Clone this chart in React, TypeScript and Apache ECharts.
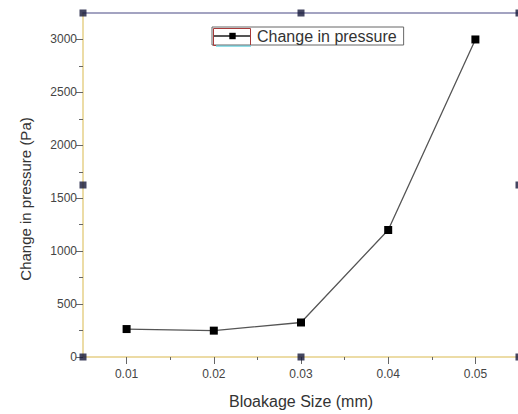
import React, { useEffect, useRef } from "react";
import * as echarts from "echarts";

const blockageSizes = [0.01, 0.02, 0.03, 0.04, 0.05];
const pressureChange = [264, 249, 326, 1200, 3000];
const xTickValues = [0.01, 0.02, 0.03, 0.04, 0.05];
const xMinorTickValues = [0.015, 0.025, 0.035, 0.045];
const yTickValues = [0, 500, 1000, 1500, 2000, 2500, 3000];
const yMinorTickValues = [250, 750, 1250, 1750, 2250, 2750];
const frameMarkers: [number, number][] = [
  [0.005, 0], [0.005, 1625], [0.005, 3250],
  [0.03, 0], [0.03, 3250],
  [0.055, 0], [0.055, 1625], [0.055, 3250],
];

const FONT = "'Liberation Sans', Arial, sans-serif";

export default function App() {
  const ref = useRef<HTMLDivElement>(null);
  useEffect(() => {
    document.body.style.margin = "0";
    document.body.style.overflow = "hidden";
    if (!ref.current) return;
    const chart = echarts.init(ref.current, undefined, { renderer: "svg" });
    chart.setOption({
      animation: false,
      backgroundColor: "#ffffff",
      textStyle: { fontFamily: FONT },
      grid: { left: 83, top: 13, right: 3, bottom: 53, containLabel: false },
      legend: {
        left: 212,
        top: 27,
        itemWidth: 37,
        itemHeight: 8,
        itemGap: 0,
        padding: [1, 7, 1, 1],
        borderColor: "#666",
        borderWidth: 1,
        textStyle: { fontSize: 16, color: "#333", fontFamily: FONT, padding: [0, 0, 0, 1] },
        data: [{ name: "Change in pressure" }],
      },
      xAxis: [
        {
          type: "value",
          min: 0.005,
          max: 0.055,
          position: "bottom",
          name: "Bloakage Size (mm)",
          nameLocation: "middle",
          nameGap: 36,
          nameTextStyle: { fontSize: 16, color: "#333", fontFamily: FONT },
          axisLine: { show: true, onZero: false, lineStyle: { color: "#e6d088", width: 1.5 } },
          axisTick: { show: true, customValues: xTickValues, length: 7, inside: false, lineStyle: { color: "#666" } },
          axisLabel: { customValues: xTickValues, fontSize: 12, color: "#444", margin: 11, formatter: (v: number) => v.toFixed(2) },
          splitLine: { show: false },
        },
        {
          type: "value",
          min: 0.005,
          max: 0.055,
          position: "bottom",
          axisLine: { show: false },
          axisTick: { show: true, customValues: xMinorTickValues, length: 3, lineStyle: { color: "#666" } },
          axisLabel: { show: false },
          splitLine: { show: false },
        },
        {
          type: "value",
          min: 0.005,
          max: 0.055,
          position: "top",
          axisLine: { show: true, onZero: false, lineStyle: { color: "#8585ad", width: 1.5 } },
          axisTick: { show: false },
          axisLabel: { show: false },
          splitLine: { show: false },
        },
      ],
      yAxis: [
        {
          type: "value",
          min: 0,
          max: 3250,
          position: "left",
          axisLine: { show: true, onZero: false, lineStyle: { color: "#e6d088", width: 1.5 } },
          axisTick: { show: true, customValues: yTickValues, length: 7, lineStyle: { color: "#666" } },
          axisLabel: { customValues: yTickValues, fontSize: 12, color: "#444", margin: 6, formatter: (v: number) => String(v) },
          splitLine: { show: false },
        },
        {
          type: "value",
          min: 0,
          max: 3250,
          position: "left",
          axisLine: { show: false },
          axisTick: { show: true, customValues: yMinorTickValues, length: 4, lineStyle: { color: "#666" } },
          axisLabel: { show: false },
          splitLine: { show: false },
        },
        {
          type: "value",
          min: 0,
          max: 3250,
          position: "right",
          axisLine: { show: true, onZero: false, lineStyle: { color: "#e6d088", width: 1.5 } },
          axisTick: { show: false },
          axisLabel: { show: false },
          splitLine: { show: false },
        },
      ],
      series: [
        {
          name: "Change in pressure",
          type: "line",
          data: blockageSizes.map((x, i) => [x, pressureChange[i]]),
          symbol: "rect",
          symbolSize: 8,
          itemStyle: { color: "#000" },
          lineStyle: { color: "#555", width: 1.3 },
          z: 5,
        },
        {
          name: "frame",
          type: "scatter",
          data: frameMarkers,
          symbol: "rect",
          symbolSize: 7,
          clip: false,
          itemStyle: { color: "#15183a" },
          silent: true,
          z: 6,
        },
      ],
      graphic: [
        {
          type: "text",
          x: 25,
          y: 199,
          rotation: Math.PI / 2,
          style: {
            text: "Change in pressure (Pa)",
            fontSize: 15,
            fill: "#333",
            fontFamily: FONT,
            align: "center",
            verticalAlign: "middle",
          },
        },
        {
          type: "rect",
          shape: { x: 213.5, y: 28.5, width: 37, height: 17 },
          style: { fill: "none", stroke: "#a83a3a", lineWidth: 1 },
          z: 100,
        },
        {
          type: "line",
          shape: { x1: 216, y1: 46, x2: 251, y2: 46 },
          style: { stroke: "#6fd6e0", lineWidth: 1.5 },
          z: 100,
        },
      ],
    });
    return () => chart.dispose();
  }, []);
  return (
    <div style={{ width: 518, height: 414, overflow: "hidden" }}>
      <div ref={ref} style={{ width: 522, height: 414 }} />
    </div>
  );
}
